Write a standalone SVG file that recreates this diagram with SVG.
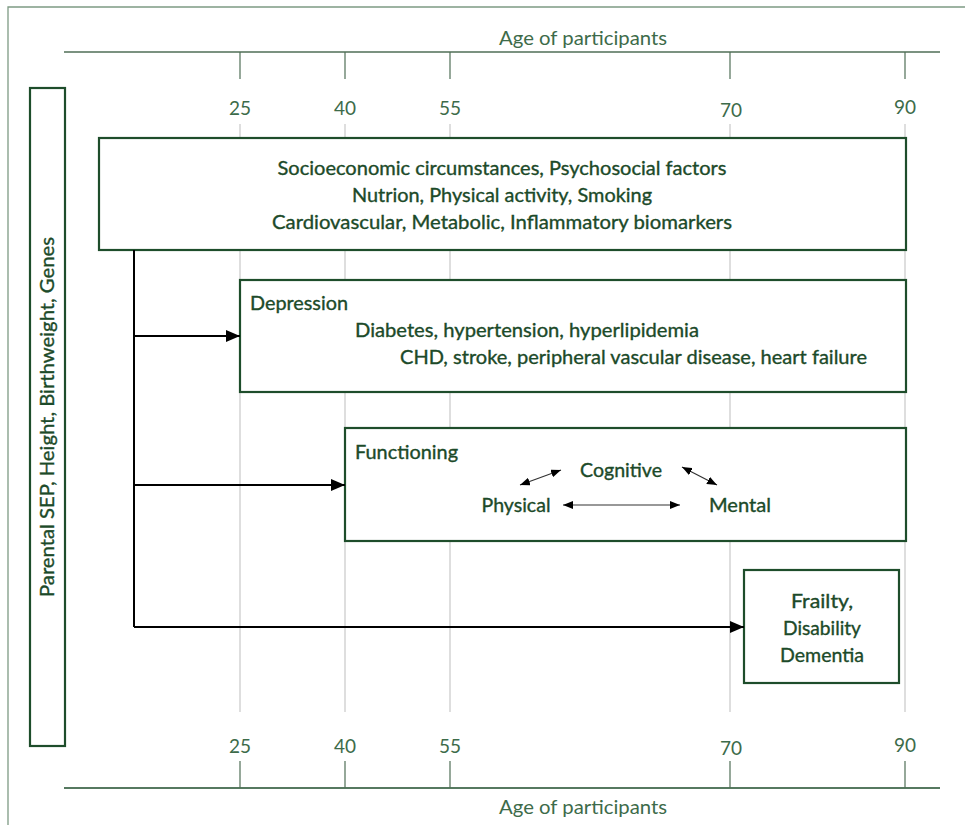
<svg xmlns="http://www.w3.org/2000/svg" width="965" height="825" viewBox="0 0 965 825">
<defs>
<style>
.t{font-family:Lato,"Liberation Sans",sans-serif;font-size:19.5px;fill:#1c4a29;stroke:#1c4a29;stroke-width:0.35px}
.ax{font-family:Lato,"Liberation Sans",sans-serif;font-size:19px;fill:#3d6b4a}
.box{fill:#fff;stroke:#1e4d2b;stroke-width:2.2}
.grid{stroke:#cccccc;stroke-width:1.3}
.tick{stroke:#4f6e56;stroke-width:1.2}
.conn{stroke:#000;stroke-width:2;fill:none}
.thin{stroke:#333;stroke-width:1.2;fill:none}
</style>
<marker id="ah" viewBox="0 0 14 12" refX="14" refY="6" markerWidth="14" markerHeight="12" markerUnits="userSpaceOnUse" orient="auto">
<path d="M0,0 L14,6 L0,12 Z" fill="#000"/>
</marker>
<marker id="sa" viewBox="0 0 10 8" refX="10" refY="4" markerWidth="10" markerHeight="8" markerUnits="userSpaceOnUse" orient="auto-start-reverse">
<path d="M0,0 L10,4 L0,8 Z" fill="#000"/>
</marker>
</defs>
<rect width="965" height="825" fill="#fff"/>
<path d="M8,825 L8,7 L965,7" fill="none" stroke="#7e9a84" stroke-width="1.3"/>

<g id="axes">
<line x1="64" y1="52" x2="940" y2="52" stroke="#4f6e56" stroke-width="1.3"/>
<line x1="64" y1="788" x2="940" y2="788" stroke="#1e4d2b" stroke-width="1.6"/>
<g class="grid">
<line x1="240" y1="124" x2="240" y2="712"/>
<line x1="345" y1="124" x2="345" y2="712"/>
<line x1="450" y1="124" x2="450" y2="712"/>
<line x1="730" y1="124" x2="730" y2="712"/>
<line x1="905" y1="124" x2="905" y2="712"/>
</g>
<g class="tick">
<line x1="240" y1="52" x2="240" y2="79"/><line x1="345" y1="52" x2="345" y2="79"/><line x1="450" y1="52" x2="450" y2="79"/><line x1="730" y1="52" x2="730" y2="79"/><line x1="905" y1="52" x2="905" y2="79"/>
<line x1="240" y1="761" x2="240" y2="788"/><line x1="345" y1="761" x2="345" y2="788"/><line x1="450" y1="761" x2="450" y2="788"/><line x1="730" y1="761" x2="730" y2="788"/><line x1="905" y1="761" x2="905" y2="788"/>
</g>
<g class="ax" text-anchor="middle">
<text x="583" y="45" textLength="168" lengthAdjust="spacingAndGlyphs">Age of participants</text>
<text x="240" y="115">25</text><text x="345" y="115">40</text><text x="450" y="115">55</text><text x="731" y="117">70</text><text x="905" y="114">90</text>
<text x="240" y="753">25</text><text x="345" y="753">40</text><text x="450" y="753">55</text><text x="731" y="755">70</text><text x="905" y="752">90</text>
<text x="583" y="814" textLength="168" lengthAdjust="spacingAndGlyphs">Age of participants</text>
</g>
</g>

<g id="node-parental">
<rect class="box" x="30" y="88" width="35" height="658"/>
<text class="t" transform="translate(54,417) rotate(-90)" text-anchor="middle" textLength="360" lengthAdjust="spacingAndGlyphs">Parental SEP, Height, Birthweight, Genes</text>
</g>

<g id="node-socio">
<rect class="box" x="99" y="138" width="807" height="112"/>
<text class="t" x="502" y="175" text-anchor="middle" textLength="449" lengthAdjust="spacingAndGlyphs">Socioeconomic circumstances, Psychosocial factors</text>
<text class="t" x="502" y="202" text-anchor="middle" textLength="300" lengthAdjust="spacingAndGlyphs">Nutrion, Physical activity, Smoking</text>
<text class="t" x="502" y="229" text-anchor="middle" textLength="460" lengthAdjust="spacingAndGlyphs">Cardiovascular, Metabolic, Inflammatory biomarkers</text>
</g>

<g id="node-depression">
<rect class="box" x="240" y="280" width="666" height="112"/>
<text class="t" x="250" y="310" textLength="98" lengthAdjust="spacingAndGlyphs">Depression</text>
<text class="t" x="355" y="337" textLength="344" lengthAdjust="spacingAndGlyphs">Diabetes, hypertension, hyperlipidemia</text>
<text class="t" x="400" y="364" textLength="467" lengthAdjust="spacingAndGlyphs">CHD, stroke, peripheral vascular disease, heart failure</text>
</g>

<g id="node-functioning">
<rect class="box" x="345" y="428" width="561" height="113"/>
<text class="t" x="355" y="459" textLength="103" lengthAdjust="spacingAndGlyphs">Functioning</text>
<text class="t" x="621" y="477" text-anchor="middle" textLength="82" lengthAdjust="spacingAndGlyphs">Cognitive</text>
<text class="t" x="516" y="512" text-anchor="middle" textLength="69" lengthAdjust="spacingAndGlyphs">Physical</text>
<text class="t" x="740" y="512" text-anchor="middle" textLength="62" lengthAdjust="spacingAndGlyphs">Mental</text>
<g class="thin">
<line x1="563" y1="505" x2="680" y2="505" marker-start="url(#sa)" marker-end="url(#sa)"/>
<line x1="520" y1="485" x2="561" y2="470" marker-start="url(#sa)" marker-end="url(#sa)"/>
<line x1="682" y1="467" x2="717" y2="485" marker-start="url(#sa)" marker-end="url(#sa)"/>
</g>
</g>

<g id="node-frailty">
<rect class="box" x="744" y="570" width="155" height="113"/>
<text class="t" x="822" y="608" text-anchor="middle" textLength="62" lengthAdjust="spacingAndGlyphs">Frailty,</text>
<text class="t" x="822" y="635" text-anchor="middle" textLength="78" lengthAdjust="spacingAndGlyphs">Disability</text>
<text class="t" x="822" y="662" text-anchor="middle" textLength="84" lengthAdjust="spacingAndGlyphs">Dementia</text>
</g>

<g id="connectors">
<path class="conn" d="M134,250 L134,627"/>
<line class="conn" x1="134" y1="336" x2="240" y2="336" marker-end="url(#ah)"/>
<line class="conn" x1="134" y1="485" x2="345" y2="485" marker-end="url(#ah)"/>
<line class="conn" x1="134" y1="627" x2="744" y2="627" marker-end="url(#ah)"/>
</g>
</svg>
